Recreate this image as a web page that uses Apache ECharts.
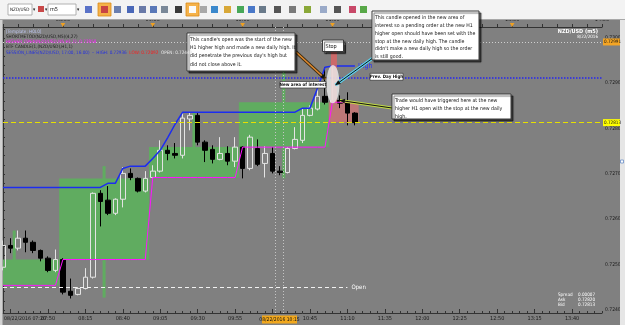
<!DOCTYPE html>
<html><head><meta charset="utf-8">
<script src="https://cdn.jsdelivr.net/npm/echarts@6.0.0/dist/echarts.min.js"></script>
<style>html,body{margin:0;padding:0;overflow:hidden;background:#808080}#c{width:625px;height:325px}</style>
</head><body><div id="c"></div><script>
// ---------- data ----------
const times=['07:20','07:25','07:30','07:35','07:40','07:45','07:50','07:55',
'08:00','08:05','08:10','08:15','08:20','08:25','08:30','08:35','08:40','08:45','08:50','08:55',
'09:00','09:05','09:10','09:15','09:20','09:25','09:30','09:35','09:40','09:45','09:50','09:55',
'10:00','10:05','10:10','10:15','10:20','10:25','10:30','10:35','10:40','10:45','10:50','10:55',
'11:00','11:05','11:10','11:15','11:20','11:25','11:30','11:35','11:40','11:45','11:50','11:55',
'12:00','12:05','12:10','12:15','12:20','12:25','12:30','12:35','12:40','12:45','12:50','12:55',
'13:00','13:05','13:10','13:15','13:20','13:25','13:30','13:35','13:40','13:45','13:50','13:55','14:00'];
// [open, close, low, high]
const candles=[
[0.72494,0.72542,0.72487,0.72553],[0.72542,0.72536,0.72525,0.72558],[0.72536,0.72558,0.72531,0.72575],[0.72558,0.72549,0.72527,0.72575],
[0.72549,0.72531,0.72525,0.72553],[0.72531,0.72514,0.72507,0.72533],[0.72514,0.72487,0.72483,0.72518],[0.72487,0.72511,0.72483,0.72533],
[0.72511,0.72439,0.72434,0.72514],[0.72441,0.72432,0.72425,0.72469],[0.72434,0.72447,0.72432,0.72450],[0.72447,0.72472,0.72445,0.72492],
[0.72472,0.72657,0.72469,0.72659],[0.72657,0.72639,0.72584,0.72664],[0.72642,0.72613,0.72609,0.72673],[0.72613,0.72644,0.72609,0.72646],
[0.72644,0.72701,0.72626,0.72715],[0.72701,0.72692,0.72686,0.72712],[0.72690,0.72662,0.72659,0.72692],[0.72662,0.72690,0.72659,0.72706],
[0.72692,0.72706,0.72690,0.72719],[0.72706,0.72752,0.72703,0.72774],[0.72752,0.72745,0.72730,0.72763],[0.72745,0.72741,0.72734,0.72768],
[0.72741,0.72823,0.72734,0.72836],[0.72821,0.72829,0.72796,0.72836],[0.72829,0.72770,0.72763,0.72834],[0.72770,0.72752,0.72726,0.72774],
[0.72754,0.72732,0.72723,0.72763],[0.72732,0.72745,0.72730,0.72781],[0.72745,0.72728,0.72719,0.72761],[0.72728,0.72759,0.72715,0.72781],
[0.72759,0.72712,0.72690,0.72761],[0.72712,0.72781,0.72708,0.72786],[0.72756,0.72721,0.72717,0.72776],[0.72723,0.72745,0.72692,0.72761],
[0.72745,0.72706,0.72701,0.72759],[0.72706,0.72703,0.72697,0.72717],[0.72703,0.72756,0.72701,0.72759],[0.72756,0.72776,0.72754,0.72803],
[0.72774,0.72829,0.72768,0.72845],[0.72829,0.72845,0.72827,0.72851],[0.72843,0.72871,0.72840,0.72889],[0.72871,0.72858,0.72853,0.72935],
[0.72858,0.72862,0.72856,0.72938],[0.72862,0.72856,0.72845,0.72873],[0.72858,0.72834,0.72807,0.72880],[0.72834,0.72813,0.72807,0.72836]];
const dailyHigh=[0.72670,0.72670,0.72670,0.72670,0.72670,0.72670,0.72670,0.72670,0.72670,0.72670,0.72670,0.72670,0.72670,0.72670,
0.72679,0.72679,0.72712,0.72717,0.72717,0.72717,0.72734,0.72752,0.72780,0.72810,
0.72836,0.72836,0.72836,0.72836,0.72836,0.72836,0.72836,0.72836,0.72836,0.72836,0.72836,0.72836,0.72836,0.72836,0.72836,0.72836,
0.72845,0.72845,0.72889,0.72935,0.72938,0.72938,0.72938,0.72938];
const h1Open=[0.72454,0.72454,0.72454,0.72454,0.72454,0.72454,0.72454,0.72454,
0.72511,0.72511,0.72511,0.72511,0.72511,0.72511,0.72511,0.72511,0.72511,0.72511,0.72511,0.72511,
0.72692,0.72692,0.72692,0.72692,0.72692,0.72692,0.72692,0.72692,0.72692,0.72692,0.72692,0.72692,
0.72759,0.72759,0.72759,0.72759,0.72759,0.72759,0.72759,0.72759,0.72759,0.72759,0.72759,0.72759,
0.72858,0.72858,0.72858,0.72858];
// H1 candles: [firstBar, lastBar, open, close, high, low]
const h1Bars=[[-4,7,0.72454,0.72511,0.72575,0.72447],[8,19,0.72511,0.72690,0.72717,0.72427],
[20,31,0.72692,0.72759,0.72836,0.72690],[32,43,0.72759,0.72858,0.72935,0.72690],[44,47,0.72858,0.72813,0.72938,0.72807]];
const yTicks=[0.7240,0.7250,0.7260,0.7270,0.7280,0.7290,0.7300];
const yMinorTicks=[0.7240,0.7242,0.7244,0.7246,0.7248,0.7250,0.7252,0.7254,0.7256,0.7258,0.7260,0.7262,0.7264,0.7266,0.7268,
0.7270,0.7272,0.7274,0.7276,0.7278,0.7280,0.7282,0.7284,0.7286,0.7288,0.7290,0.7292,0.7294,0.7296,0.7298,0.7300,0.7302];
const prevDayHigh=0.72913, bidPrice=0.72813, topLevel=0.72991, sessionOpen=0.72449;
const infoRows=[['Spread','0.00007'],['Ask','0.72820'],['Bid','0.72813']];

// ---------- chart ----------
const FONT="'Liberation Sans Narrow','DejaVu Sans Condensed','Liberation Sans',sans-serif";
const chart=echarts.init(document.getElementById('c'));
function renderH1(params,api){
  const s=api.value(0),e=api.value(1),o=api.value(2),c=api.value(3),h=api.value(4),l=api.value(5);
  const bull=c>=o;
  const col=bull?'#60ac60':'rgba(238,112,112,0.55)';
  const p1=api.coord([s-0.5,Math.max(o,c)]), p2=api.coord([e+0.5,Math.min(o,c)]);
  const ch=[];
  if(e-s===11){
    const t=api.coord([(s+e)/2,h]), b=api.coord([(s+e)/2,l]);
    ch.push({type:'rect',shape:{x:t[0]-1.5,y:t[1],width:3,height:b[1]-t[1]},style:{fill:col}});
  }
  ch.push({type:'rect',shape:{x:p1[0],y:p1[1],width:p2[0]-p1[0],height:p2[1]-p1[1]},style:{fill:col}});
  return {type:'group',children:ch};
}
function hLine(level,style,label){
  const a={coord:[times[0],level],lineStyle:style};
  if(label)a.label=label;
  return [a,{coord:[times[times.length-1],level]}];
}
const axisCol='#333';
chart.setOption({
  animation:false,backgroundColor:'#808080',textStyle:{fontFamily:FONT},
  grid:{left:3,right:23,top:27,bottom:12,containLabel:false,outerBoundsMode:'none'},
  xAxis:[
    {type:'category',data:times,boundaryGap:false,position:'bottom',
     axisLine:{lineStyle:{color:axisCol}},
     axisTick:{interval:0,inside:true,length:2,lineStyle:{color:axisCol}},
     axisLabel:{interval:(i)=>i>=6&&(i-6)%5===0&&i!==36,color:'#1a1a1a',fontSize:5.5,margin:3,fontFamily:FONT},
     splitLine:{show:false}},
    {type:'category',data:times,boundaryGap:false,position:'top',
     axisLine:{lineStyle:{color:axisCol}},
     axisTick:{interval:1,length:3,lineStyle:{color:axisCol}},
     axisLabel:{interval:(i)=>i%12===8,color:'#1a1a1a',fontSize:5.5,margin:4,fontFamily:FONT},
     splitLine:{show:false}},
    {type:'value',min:0,max:80,show:false},
    {type:'category',data:times,boundaryGap:false,position:'bottom',
     axisLine:{show:false},axisLabel:{show:false},
     axisTick:{interval:(i)=>(i-1)%5===0,inside:true,length:4,lineStyle:{color:axisCol}},splitLine:{show:false}}
  ],
  yAxis:{type:'value',position:'right',min:0.72393,max:0.73024,scale:true,
    axisLine:{show:true,lineStyle:{color:axisCol}},
    axisTick:{show:true,customValues:yMinorTicks,length:2,lineStyle:{color:axisCol}},
    axisLabel:{customValues:yTicks,formatter:(v)=>v.toFixed(4),color:'#1a1a1a',fontSize:5,margin:3,fontFamily:FONT},
    splitLine:{show:false}},
  series:[
    {type:'custom',xAxisIndex:2,yAxisIndex:0,data:h1Bars,renderItem:renderH1,clip:true,z:1,silent:true,
     encode:{x:[0,1],y:[2,3,4,5]},
     markLine:{silent:true,symbol:['none','none'],label:{show:false},
       lineStyle:{color:'#c4c4c4',type:[1,2],width:1},data:[{xAxis:36.3},{xAxis:37.4}]}},
    {type:'candlestick',xAxisIndex:0,yAxisIndex:0,data:candles,barWidth:5,z:3,silent:true,
     itemStyle:{color:'rgba(0,0,0,0)',color0:'#000',borderColor:'#e4e4e4',borderColor0:'#000',borderWidth:1}},
    {type:'line',xAxisIndex:0,yAxisIndex:0,data:dailyHigh,symbol:'none',silent:true,z:4,
     lineStyle:{color:'#1c2cf0',width:1.5},
     endLabel:{show:true,formatter:'High',color:'#2430ff',fontSize:7,distance:3,fontFamily:FONT}},
    {type:'line',xAxisIndex:0,yAxisIndex:0,data:h1Open,symbol:'none',silent:true,z:4,
     lineStyle:{color:'#ff14ff',width:1},
     markLine:{silent:true,symbol:['none','none'],label:{show:false},
       data:[
        hLine(topLevel,{color:'#cfcfcf',type:[1,2],width:1}),
        hLine(prevDayHigh,{color:'#2626f0',type:[1.5,1.5],width:1.5}),
        hLine(bidPrice,{color:'#e6e000',type:[5,3],width:1.2}),
        [{coord:[times[0],sessionOpen],lineStyle:{color:'#f2f2f2',type:[4,3],width:1},
          label:{show:true,position:'end',formatter:'Open',color:'#ffffff',fontSize:6,distance:4,fontFamily:FONT}},
         {coord:[times[46],sessionOpen]}]
       ]}}
  ]
});

// ---------- overlays ----------
const px=(i,p)=>chart.convertToPixel({xAxisIndex:0,yAxisIndex:0},[i,p]);
const G=[];
function txt(x,y,text,o){return {type:'text',z:110,silent:true,style:Object.assign({x:x,y:y,text:text,fill:'#111',fontSize:6,fontFamily:FONT,align:'left',verticalAlign:'middle'},o||{})};}
function rect(x,y,w,h,fill,o){return {type:'rect',z:(o&&o.z)||105,silent:true,shape:{x:x,y:y,width:w,height:h},style:Object.assign({fill:fill},(o&&o.style)||{})};}
function arrow(x1,y1,x2,y2,col,w,glow,gw){
  if(glow)G.push({type:'line',z:95,silent:true,shape:{x1:x1,y1:y1,x2:x2,y2:y2},style:{stroke:glow,lineWidth:gw}});
  G.push({type:'line',z:96,silent:true,shape:{x1:x1,y1:y1,x2:x2,y2:y2},style:{stroke:col,lineWidth:w}});
  const a=Math.atan2(y2-y1,x2-x1),L=5,W=2.3,bx=x2-L*Math.cos(a),by=y2-L*Math.sin(a);
  G.push({type:'polygon',z:97,silent:true,shape:{points:[[x2,y2],[bx+W*Math.sin(a),by-W*Math.cos(a)],[bx-W*Math.sin(a),by+W*Math.cos(a)]]},style:{fill:'#111'}});
}
function box(x,y,w,h,lines,fs,lh){
  G.push({type:'rect',z:100,silent:true,shape:{x:x,y:y,width:w,height:h},
    style:{fill:'#ffffff',stroke:'#3a3a3a',lineWidth:1,shadowColor:'rgba(0,0,0,0.55)',shadowOffsetX:2,shadowOffsetY:2,shadowBlur:1}});
  G.push(txt(x+3,y+2.5,lines.join('\n'),{fontSize:fs,lineHeight:lh,verticalAlign:'top',fill:'#151515'}));
}
// frame / toolbar
G.push(rect(0,0,625,19.5,'#f3f3f3',{z:50}));
G.push({type:'line',z:51,silent:true,shape:{x1:0,y1:19.5,x2:625,y2:19.5},style:{stroke:'#a8a8a8',lineWidth:1}});
G.push(rect(0,19.5,2.5,306,'#d2d2d2',{z:50}));
G.push(rect(620,19.5,5,306,'#e6e6e6',{z:50}));
G.push(rect(620.5,160,3,3,'#ffffff',{z:51,style:{stroke:'#6b8fc8',lineWidth:0.8}}));
G.push(rect(8,4,24,11,'#ffffff',{z:52,style:{stroke:'#a0a0a0',lineWidth:0.8}}));
G.push(txt(10,9.5,'NZD/USD',{fontSize:4.6,z:53}));
G.push(txt(33,10,'▾',{fontSize:5}));
G.push(rect(38,6,6,6,'#c84848',{z:52}));
G.push(txt(45,10,'▾',{fontSize:5}));
G.push(rect(48,4,28,11,'#ffffff',{z:52,style:{stroke:'#a0a0a0',lineWidth:0.8}}));
G.push(txt(50,9.5,'m5',{fontSize:5.5}));
G.push(txt(77,10,'▾',{fontSize:5}));
G.push(rect(98,3,13,13,'#f5b24a',{z:52,style:{stroke:'#d98a1a',lineWidth:0.8}}));
G.push(rect(186,3,13,13,'#f5b24a',{z:52,style:{stroke:'#d98a1a',lineWidth:0.8}}));
[[85,'#5a72c8'],[101,'#c84444'],[114,'#6a7fb0'],[127,'#4a68b8'],[139,'#6a7aa8'],[150,'#5a78b8'],[161,'#7a8898'],[175,'#3a3a3a'],
 [189,'#fafafa'],[200,'#a8a8a8'],[211,'#3a88cc'],[224,'#d8a838'],[237,'#48a858'],[248,'#4a78c8'],[259,'#6a7a8a'],[274,'#555555'],
 [289,'#7a7a7a'],[304,'#8aa838'],[320,'#9aaac8'],[334,'#555555'],[349,'#c84868'],[360,'#58a848']].forEach(function(d){
  G.push(rect(d[0],6,7,7,d[1],{z:53}));
});
// header texts
G.push(txt(6,31.5,'[Template: H0L0]',{fontSize:4.6,fill:'#bcc4ee'}));
G.push(txt(6,36.5,'SHORTMETOD(NZD/USD,M5)(4,27)',{fontSize:4.6,fill:'#1a1a1a'}));
G.push(txt(6,42,'HIGHER_OPEN(NZD/USD,M5,H1,1), 0.72858',{fontSize:4.6,fill:'#ff20ff'}));
G.push(txt(6,47,'BTF CANDLE(1,(NZD/USD),H1,1)',{fontSize:4.6,fill:'#1a1a1a'}));
G.push({type:'text',z:110,silent:true,style:{x:6,y:52.5,verticalAlign:'middle',fontSize:4.6,fontFamily:FONT,
  text:'{b|SESSION_LINES(NZD/USD, 17:00, 16:00)  -  HIGH: 0.72936}  {r|LOW: 0.72092}  {w|OPEN: 0.72449}',
  rich:{b:{fill:'#2430e0',fontSize:4.6,fontFamily:FONT},r:{fill:'#ff1818',fontSize:4.6,fontFamily:FONT},w:{fill:'#e8e8e8',fontSize:4.6,fontFamily:FONT}}}});
G.push(txt(598,31.5,'NZD/USD (m5)',{fontSize:5.5,fill:'#ffffff',align:'right',fontWeight:'bold'}));
G.push(txt(598,37,'8/22/2016',{fontSize:4.5,fill:'#ffffff',align:'right'}));
// price labels on axis
const yTop=px(0,topLevel)[1], yBid=px(0,bidPrice)[1];
G.push(rect(603,yTop-3.5,17,7,'#f4a524'));
G.push(txt(604,yTop,topLevel.toFixed(5),{fontSize:4.6}));
G.push(rect(603,yBid-3.5,17,7,'#ffff00'));
G.push(txt(604,yBid,bidPrice.toFixed(5),{fontSize:4.6}));
// info rows
infoRows.forEach(function(r,i){
  G.push(txt(558,295+i*5,r[0],{fontSize:4.6,fill:'#ffffff'}));
  G.push(txt(578,295+i*5,r[1],{fontSize:4.6,fill:'#ffffff'}));
});
// bottom time labels
G.push(txt(4,319,'08/22/2016 '+times[0],{fontSize:5.2,fill:'#1a1a1a'}));
G.push(rect(262,315.5,35,8,'#f2a81d'));
G.push(txt(279.5,319.5,'08/22/2016 10:15',{fontSize:5,align:'center'}));
// top axis markers
[8,20,32,44,56,68].forEach(function(i){
  const x=chart.convertToPixel({xAxisIndex:1},i);
  G.push({type:'polygon',z:60,silent:true,shape:{points:[[x-2.3,23],[x+2.3,23],[x,27]]},style:{fill:'#f0a020'}});
});
// annotation around the 11:00 candle
const c44=candles[44];
const pHi=px(44,c44[3]), pOp=px(44,c44[0]);
G.push(rect(pHi[0]-1.5,52,6,pOp[1]-52,'rgba(236,96,96,0.7)',{z:90}));
G.push({type:'ellipse',z:92,silent:true,shape:{cx:pHi[0]+0.5,cy:(pHi[1]+pOp[1])/2,rx:6.5,ry:(pOp[1]-pHi[1])/2+1},style:{fill:'rgba(236,236,236,0.82)'}});
arrow(296,52,pHi[0]-7,pHi[1]+13,'#e08a30',1.6,'#3a2a10',3.2);
arrow(377,55,pHi[0]+3,pHi[1]+19,'#111',1,'#5ad2ee',3);
arrow(392,108,px(45,0)[0],px(0,candles[45][0])[1],'#111',1,'rgba(205,235,60,0.85)',3);
box(322.5,40,21,11.5,['Stop'],5.5,8);
G.push({type:'rect',z:100,silent:true,shape:{x:280,y:81.5,width:46,height:6.5},style:{fill:'#ffffff',stroke:'#333',lineWidth:0.7}});
G.push(txt(303,84.8,'New area of interest',{fontSize:4.5,align:'center',fontWeight:'bold'}));
const yPDH=px(0,prevDayHigh)[1];
G.push({type:'rect',z:100,silent:true,shape:{x:370,y:yPDH-4,width:33,height:7},style:{fill:'#ffffff',stroke:'#333',lineWidth:0.7}});
G.push(txt(386.5,yPDH-0.5,'Prev. Day High',{fontSize:4.5,align:'center',fontWeight:'bold'}));
box(187,33,108,38,['This candle\'s open was the start of the new','H1 higher high and made a new daily high. It','did penetrate the previous day\'s high but','did not close above it.'],5.2,8.2);
box(372,11,107,49,['This candle opened in the new area of','interest so a pending order at the new H1','higher open should have been set with the','stop at the new daily high. The candle','didn\'t make a new daily high so the order','is still good.'],5.2,7.9);
box(392,94,119,25,['Trade would have triggered here at the new','higher H1 open with the stop at the new daily','high.'],5.2,7.9);
chart.setOption({graphic:{elements:G}});
</script></body></html>
